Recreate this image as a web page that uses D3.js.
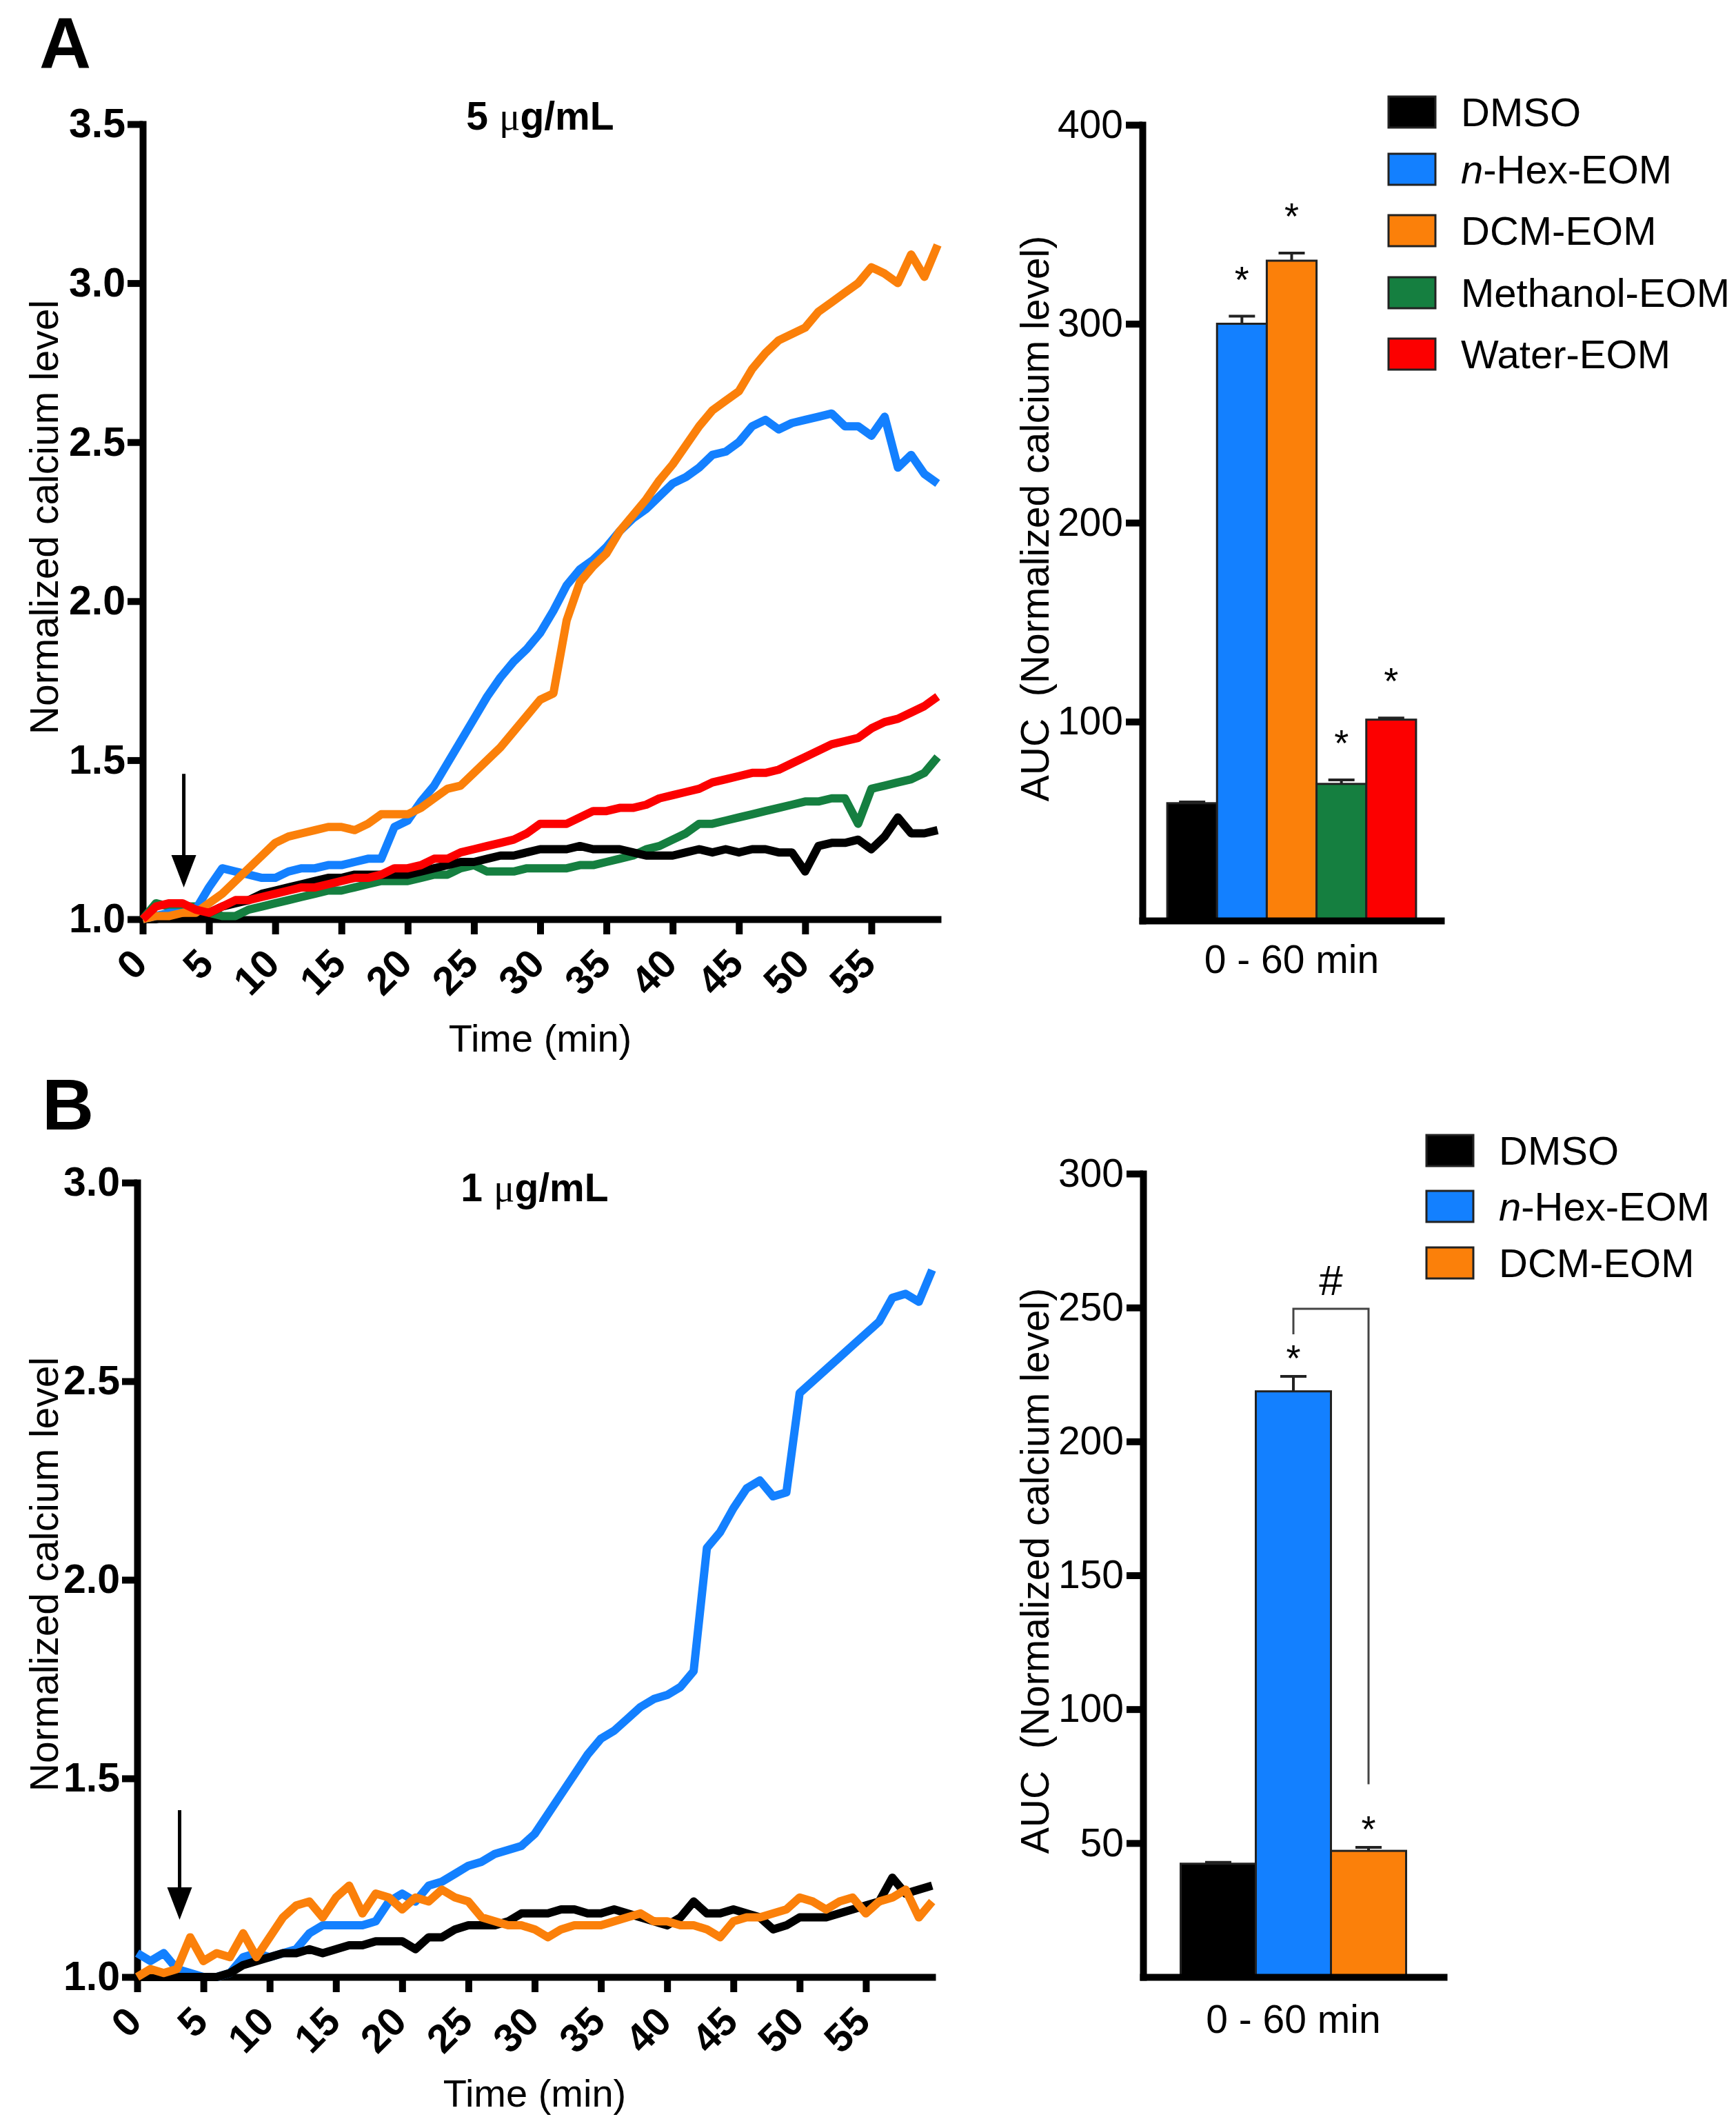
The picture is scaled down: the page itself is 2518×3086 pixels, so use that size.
<!DOCTYPE html>
<html>
<head>
<meta charset="utf-8">
<script src="https://d3js.org/d3.v7.min.js"></script>
<style>
  body { margin: 0; background: #ffffff; }
  text { font-family: "Liberation Sans", Arial, sans-serif; fill: #000000; }
</style>
</head>
<body>
<div id="figure"></div>

<script>
// ---------------- data ----------------
const minutes = [0,1,2,3,4,5,6,7,8,9,10,11,12,13,14,15,16,17,18,19,20,21,22,23,24,25,26,27,28,29,
  30,31,32,33,34,35,36,37,38,39,40,41,42,43,44,45,46,47,48,49,50,51,52,53,54,55,56,57,58,59,60];
const timeTicks = [0,5,10,15,20,25,30,35,40,45,50,55];

// panel A, 5 ug/mL (normalized calcium level, one value per minute)
const dmsoA = [1.00,1.00,1.01,1.01,1.01,1.02,1.04,1.05,1.06,1.08,
  1.09,1.10,1.11,1.12,1.13,1.13,1.14,1.14,1.14,1.14,
  1.14,1.15,1.16,1.17,1.18,1.18,1.19,1.20,1.20,1.21,
  1.22,1.22,1.22,1.23,1.22,1.22,1.22,1.21,1.20,1.20,
  1.20,1.21,1.22,1.21,1.22,1.21,1.22,1.22,1.21,1.21,
  1.15,1.23,1.24,1.24,1.25,1.22,1.26,1.32,1.27,1.27,1.28];
const hexA = [1.00,1.01,1.02,1.02,1.03,1.10,1.16,1.15,1.14,1.13,
  1.13,1.15,1.16,1.16,1.17,1.17,1.18,1.19,1.19,1.29,
  1.31,1.37,1.42,1.49,1.56,1.63,1.70,1.76,1.81,1.85,
  1.90,1.97,2.05,2.10,2.13,2.17,2.22,2.26,2.29,2.33,
  2.37,2.39,2.42,2.46,2.47,2.50,2.55,2.57,2.54,2.56,
  2.57,2.58,2.59,2.55,2.55,2.52,2.58,2.42,2.46,2.40,2.37];
const dcmA = [1.00,1.01,1.01,1.02,1.02,1.05,1.08,1.12,1.16,1.20,
  1.24,1.26,1.27,1.28,1.29,1.29,1.28,1.30,1.33,1.33,
  1.33,1.35,1.38,1.41,1.42,1.46,1.50,1.54,1.59,1.64,
  1.69,1.71,1.94,2.06,2.11,2.15,2.22,2.27,2.32,2.38,
  2.43,2.49,2.55,2.60,2.63,2.66,2.73,2.78,2.82,2.84,
  2.86,2.91,2.94,2.97,3.00,3.05,3.03,3.00,3.09,3.02,3.12];
const methA = [1.00,1.05,1.04,1.04,1.04,1.02,1.01,1.01,1.03,1.04,
  1.05,1.06,1.07,1.08,1.09,1.09,1.10,1.11,1.12,1.12,
  1.12,1.13,1.14,1.14,1.16,1.17,1.15,1.15,1.15,1.16,
  1.16,1.16,1.16,1.17,1.17,1.18,1.19,1.20,1.22,1.23,
  1.25,1.27,1.30,1.30,1.31,1.32,1.33,1.34,1.35,1.36,
  1.37,1.37,1.38,1.38,1.30,1.41,1.42,1.43,1.44,1.46,1.51];
const waterA = [1.00,1.04,1.05,1.05,1.03,1.02,1.04,1.06,1.06,1.07,
  1.08,1.09,1.10,1.10,1.11,1.12,1.13,1.13,1.14,1.16,
  1.16,1.17,1.19,1.19,1.21,1.22,1.23,1.24,1.25,1.27,
  1.30,1.30,1.30,1.32,1.34,1.34,1.35,1.35,1.36,1.38,
  1.39,1.40,1.41,1.43,1.44,1.45,1.46,1.46,1.47,1.49,
  1.51,1.53,1.55,1.56,1.57,1.60,1.62,1.63,1.65,1.67,1.70];

// panel B, 1 ug/mL
const dmsoB = [1.00,1.00,1.00,1.00,1.00,1.00,1.00,1.01,1.03,1.04,
  1.05,1.06,1.06,1.07,1.06,1.07,1.08,1.08,1.09,1.09,
  1.09,1.07,1.10,1.10,1.12,1.13,1.13,1.13,1.14,1.16,
  1.16,1.16,1.17,1.17,1.16,1.16,1.17,1.16,1.15,1.14,
  1.13,1.15,1.19,1.16,1.16,1.17,1.16,1.15,1.12,1.13,
  1.15,1.15,1.15,1.16,1.17,1.18,1.19,1.25,1.21,1.22,1.23];
const hexB = [1.06,1.04,1.06,1.02,1.01,1.00,1.00,1.01,1.05,1.06,
  1.05,1.06,1.07,1.11,1.13,1.13,1.13,1.13,1.14,1.19,
  1.21,1.19,1.23,1.24,1.26,1.28,1.29,1.31,1.32,1.33,
  1.36,1.41,1.46,1.51,1.56,1.60,1.62,1.65,1.68,1.70,
  1.71,1.73,1.77,2.08,2.12,2.18,2.23,2.25,2.21,2.22,
  2.47,2.50,2.53,2.56,2.59,2.62,2.65,2.71,2.72,2.70,2.78];
const dcmB = [1.00,1.02,1.01,1.02,1.10,1.04,1.06,1.05,1.11,1.05,
  1.10,1.15,1.18,1.19,1.15,1.20,1.23,1.16,1.21,1.20,
  1.17,1.20,1.19,1.22,1.20,1.19,1.15,1.14,1.13,1.13,
  1.12,1.10,1.12,1.13,1.13,1.13,1.14,1.15,1.16,1.14,
  1.14,1.13,1.13,1.12,1.10,1.14,1.15,1.15,1.16,1.17,
  1.20,1.19,1.17,1.19,1.20,1.16,1.19,1.20,1.22,1.15,1.19];

// AUC bars (0 - 60 min)
const groupsA = ["DMSO", "n-Hex-EOM", "DCM-EOM", "Methanol-EOM", "Water-EOM"];
const aucA = [59, 300, 331.7, 68.7, 101];
const semA = [0.6, 3.8, 3.8, 2.0, 0.8];
const starA = [false, true, true, true, true];

const groupsB = ["DMSO", "n-Hex-EOM", "DCM-EOM"];
const aucB = [42.3, 218.7, 47.1];
const semB = [0.5, 5.6, 1.3];
const starB = [false, true, true];

const colors = {
  "DMSO": "#000000",
  "n-Hex-EOM": "#1380ff",
  "DCM-EOM": "#fb800a",
  "Methanol-EOM": "#157f40",
  "Water-EOM": "#fc0000"
};

// ---------------- drawing ----------------
const W = 2518, H = 3086;
const svg = d3.select("#figure")
  .append("svg")
  .attr("width", W)
  .attr("height", H);

svg.append("rect").attr("width", W).attr("height", H).attr("fill", "#ffffff");

function styleAxis(g, size, weight) {
  g.attr("font-family", '"Liberation Sans", Arial, sans-serif')
    .attr("font-size", size)
    .attr("font-weight", weight);
  g.select(".domain").attr("stroke", "#000").attr("stroke-width", 10).attr("stroke-linecap", "square");
  g.selectAll(".tick line").attr("stroke", "#000").attr("stroke-width", 10);
  g.selectAll(".tick text").attr("fill", "#000");
}

// time course panel
function drawTrace(p) {
  const x = d3.scaleLinear().domain([0, 60]).range(p.xRange);
  const y = d3.scaleLinear().domain(p.yDomain).range(p.yRange);

  const gx = svg.append("g")
    .attr("transform", `translate(0, ${p.yRange[0]})`)
    .call(d3.axisBottom(x).tickValues(timeTicks).tickSize(22).tickSizeOuter(0));
  styleAxis(gx, 58, "bold");
  gx.selectAll(".tick text")
    .attr("x", null).attr("y", null).attr("dy", null)
    .attr("text-anchor", "end")
    .attr("transform", "translate(9, 68) rotate(-45)");

  const gy = svg.append("g")
    .attr("transform", `translate(${p.xRange[0]}, 0)`)
    .call(d3.axisLeft(y).tickValues(p.yTicks).tickSize(22).tickPadding(3)
      .tickSizeOuter(0).tickFormat(d3.format(".1f")));
  styleAxis(gy, 59, "bold");

  const line = d3.line()
    .x((d, i) => x(minutes[i]))
    .y(d => y(d));

  p.series.forEach(s => {
    svg.append("path")
      .datum(s.values)
      .attr("fill", "none")
      .attr("stroke", colors[s.name])
      .attr("stroke-width", 12)
      .attr("stroke-linejoin", "round")
      .attr("d", line);
  });

  // treatment arrow
  const ax = x(p.arrow[0]);
  const tip = y(p.arrow[2]);
  svg.append("line")
    .attr("x1", ax).attr("x2", ax)
    .attr("y1", y(p.arrow[1])).attr("y2", tip - 40)
    .attr("stroke", "#000").attr("stroke-width", 5);
  svg.append("path")
    .attr("d", `M${ax - 18},${tip - 47}L${ax + 18},${tip - 47}L${ax},${tip}Z`)
    .attr("fill", "#000");

  const cx = (p.xRange[0] + p.xRange[1]) / 2;
  const title = svg.append("text")
    .attr("x", cx).attr("y", p.titleY)
    .attr("text-anchor", "middle")
    .attr("font-size", 57).attr("font-weight", "bold");
  title.append("tspan").text(p.dose + " ");
  title.append("tspan").attr("font-family", '"Liberation Serif", serif').attr("font-weight", "normal").text("\u03bc");
  title.append("tspan").text("g/mL");

  svg.append("text")
    .attr("transform", `translate(84, ${p.ylabelY}) rotate(-90)`)
    .attr("text-anchor", "middle")
    .attr("font-size", 57)
    .text("Normalized calcium level");

  svg.append("text")
    .attr("x", cx).attr("y", p.xlabelY)
    .attr("text-anchor", "middle")
    .attr("font-size", 56)
    .text("Time (min)");

  svg.append("text")
    .attr("x", p.letterPos[0]).attr("y", p.letterPos[1])
    .attr("font-size", 104).attr("font-weight", "bold")
    .text(p.letter);
}

// AUC bar panel
function drawAuc(p) {
  const x = d3.scaleBand().domain(p.groups).range(p.xRange).paddingInner(0).paddingOuter(0.5);
  const y = d3.scaleLinear().domain(p.yDomain).range(p.yRange);

  svg.append("g").selectAll("rect")
    .data(p.groups)
    .join("rect")
      .attr("x", d => x(d))
      .attr("y", (d, i) => y(p.values[i]))
      .attr("width", x.bandwidth())
      .attr("height", (d, i) => y(0) - y(p.values[i]))
      .attr("fill", d => colors[d])
      .attr("stroke", "#222")
      .attr("stroke-width", 3);

  // error bars (upper half visible)
  p.groups.forEach((d, i) => {
    const c = x(d) + x.bandwidth() / 2;
    const top = y(p.values[i] + p.errors[i]);
    svg.append("line").attr("x1", c).attr("x2", c)
      .attr("y1", y(p.values[i])).attr("y2", top)
      .attr("stroke", "#222").attr("stroke-width", 4);
    svg.append("line").attr("x1", c - 19).attr("x2", c + 19)
      .attr("y1", top).attr("y2", top)
      .attr("stroke", "#222").attr("stroke-width", 4);
    if (p.stars[i]) {
      svg.append("text")
        .attr("x", c).attr("y", top - p.starGap + 30)
        .attr("text-anchor", "middle")
        .attr("font-size", 54)
        .text("*");
    }
  });

  const gx = svg.append("g")
    .attr("transform", `translate(0, ${p.yRange[0]})`)
    .call(d3.axisBottom(x).tickSize(0).tickSizeOuter(0).tickFormat(""));
  styleAxis(gx, 57, "normal");

  const gy = svg.append("g")
    .attr("transform", `translate(${p.xRange[0]}, 0)`)
    .call(d3.axisLeft(y).tickValues(p.yTicks).tickSize(24).tickPadding(4).tickSizeOuter(0));
  styleAxis(gy, 57, "normal");

  const cx = (x(p.groups[0]) + x(p.groups[p.groups.length - 1]) + x.bandwidth()) / 2;
  svg.append("text")
    .attr("x", cx).attr("y", p.catY)
    .attr("text-anchor", "middle")
    .attr("font-size", 57)
    .text("0 - 60 min");

  svg.append("text")
    .attr("transform", `translate(1521, ${p.ylabelY}) rotate(-90)`)
    .attr("text-anchor", "middle")
    .attr("font-size", 57)
    .style("white-space", "pre")
    .text("AUC  (Normalized calcium level)");

  // legend
  const leg = svg.append("g");
  p.groups.forEach((d, i) => {
    const cy = p.legendY[i];
    leg.append("rect")
      .attr("x", p.legendX).attr("y", cy - 22)
      .attr("width", 68).attr("height", 45)
      .attr("fill", colors[d])
      .attr("stroke", "#222").attr("stroke-width", 3);
    const t = leg.append("text")
      .attr("x", p.legendX + 105).attr("y", cy)
      .attr("dy", "0.36em")
      .attr("font-size", 58);
    if (d.startsWith("n-")) {
      t.append("tspan").attr("font-style", "italic").text("n");
      t.append("tspan").text(d.slice(1));
    } else {
      t.text(d);
    }
  });

  if (p.bracket) {
    const b = p.bracket;
    const c1 = x(b.from) + x.bandwidth() / 2;
    const c2 = x(b.to) + x.bandwidth() / 2;
    svg.append("path")
      .attr("d", `M${c1},${y(b.left)}V${y(b.top)}H${c2}V${y(b.right)}`)
      .attr("fill", "none").attr("stroke", "#444").attr("stroke-width", 3);
    svg.append("text")
      .attr("x", (c1 + c2) / 2).attr("y", y(b.top) - 20)
      .attr("text-anchor", "middle")
      .attr("font-size", 62)
      .text(b.label);
  }
}

drawTrace({
  letter: "A", letterPos: [57, 98],
  dose: "5",
  xRange: [207, 1360], yRange: [1333, 180],
  yDomain: [1, 3.5], yTicks: [1, 1.5, 2, 2.5, 3, 3.5],
  titleY: 188, ylabelY: 750, xlabelY: 1525,
  arrow: [3.1, 1.457, 1.10],
  series: [
    { name: "Methanol-EOM", values: methA },
    { name: "DMSO", values: dmsoA },
    { name: "n-Hex-EOM", values: hexA },
    { name: "DCM-EOM", values: dcmA },
    { name: "Water-EOM", values: waterA }
  ]
});

drawTrace({
  letter: "B", letterPos: [61, 1638],
  dose: "1",
  xRange: [199, 1352], yRange: [2867, 1715],
  yDomain: [1, 3], yTicks: [1, 1.5, 2, 2.5, 3],
  titleY: 1742, ylabelY: 2283, xlabelY: 3055,
  arrow: [3.2, 1.42, 1.144],
  series: [
    { name: "n-Hex-EOM", values: hexB },
    { name: "DMSO", values: dmsoB },
    { name: "DCM-EOM", values: dcmB }
  ]
});

drawAuc({
  groups: groupsA, values: aucA, errors: semA, stars: starA, starGap: 65,
  xRange: [1657, 2090], yRange: [1335, 181],
  yDomain: [0, 400], yTicks: [100, 200, 300, 400],
  catY: 1411, ylabelY: 752,
  legendX: 2014, legendY: [162, 245, 334, 424, 513]
});

drawAuc({
  groups: groupsB, values: aucB, errors: semB, stars: starB, starGap: 38,
  xRange: [1658, 2094], yRange: [2867, 1702],
  yDomain: [0, 300], yTicks: [50, 100, 150, 200, 250, 300],
  catY: 2948, ylabelY: 2278,
  legendX: 2069, legendY: [1668, 1749, 1831],
  bracket: { from: "n-Hex-EOM", to: "DCM-EOM", left: 240, top: 249.5, right: 72, label: "#" }
});
</script>
</body>
</html>
